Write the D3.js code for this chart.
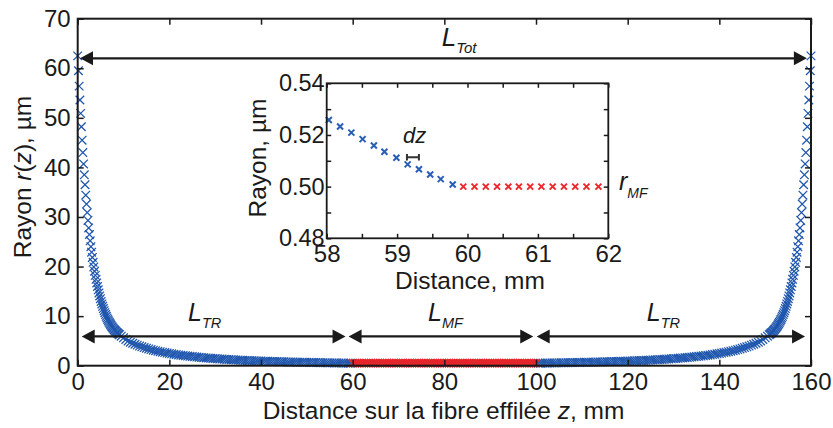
<!DOCTYPE html>
<html><head><meta charset="utf-8">
<script src="https://cdn.jsdelivr.net/npm/d3@7"></script>
<style>
body{margin:0;background:#fff}
svg{display:block}
text{font-family:"Liberation Sans",Arial,Helvetica,sans-serif;fill:#1a1a1a}
</style>
</head><body>
<svg id="c" width="833" height="428"></svg>
<script>
// ---------- data ----------
const xTicks = [0,20,40,60,80,100,120,140,160];
const yTicks = [0,10,20,30,40,50,60,70];

// left transition (taper) : distance z (mm) and radius r (µm); right taper is its mirror image
const taperZ = [0,0.16,0.32,0.48,0.64,0.8,0.96,1.12,1.28,1.44,1.6,1.76,1.92,2.08,2.24,2.4,2.56,2.72,2.88,3.04,3.2,3.36,3.52,3.68,3.84,4,4.16,4.32,4.48,4.64,4.8,4.96,5.12,5.28,5.44,5.6,5.76,5.92,6.08,6.24,6.4,6.56,6.72,6.88,7.04,7.2,7.36,7.52,7.68,7.84,8,8.16,8.32,8.48,8.64,8.8,8.96,9.12,
9.5,10,10.5,11,11.5,12,12.5,13,13.5,14,14.5,15,15.5,16,16.5,17,17.5,18,18.5,19,19.5,20,20.5,21,21.5,22,22.5,23,23.5,24,24.5,25,25.5,26,26.5,27,27.5,28,28.5,29,29.5,30,30.5,31,31.5,32,32.5,33,33.5,34,34.5,35,35.5,36,36.5,37,37.5,38,38.5,39,39.5,40,40.5,41,41.5,42,42.5,43,43.5,44,44.5,45,45.5,46,46.5,47,47.5,48,48.5,49,49.5,50,50.5,51,51.5,52,52.5,53,53.5,54,54.5,55,55.5,56,56.5,57,57.5,58,58.5,59,59.5];
const taperR = [62.5,59.5,56.4,53.6,50.9,48.2,45.5,43.0,40.7,38.5,36.5,34.4,32.6,30.9,29.3,27.8,26.45,25.2,24.0,22.9,21.85,20.85,19.92,19.05,18.22,17.43,16.69,15.98,15.31,14.68,14.08,13.51,12.97,12.46,11.98,11.53,11.10,10.70,10.32,9.96,9.63,9.32,9.03,8.76,8.50,8.26,8.03,7.82,7.62,7.43,7.25,7.08,6.92,6.77,6.63,6.50,6.37,6.25,
5.96,5.62,5.29,4.99,4.74,4.53,4.33,4.15,3.97,3.81,3.66,3.52,3.39,3.26,3.14,3.03,2.92,2.82,2.73,2.64,2.55,2.47,2.39,2.32,2.25,2.18,2.12,2.06,2.00,1.94,1.89,1.84,1.79,1.74,1.70,1.65,1.61,1.57,1.53,1.50,1.46,1.43,1.39,1.36,1.33,1.30,1.27,1.24,1.22,1.19,1.17,1.14,1.12,1.10,1.07,1.05,1.03,1.01,0.99,0.97,0.95,0.94,0.92,0.90,0.89,0.87,0.85,0.84,0.83,0.81,0.80,0.78,0.77,0.76,0.75,0.73,0.72,0.71,0.70,0.69,0.68,0.67,0.66,0.65,0.64,0.63,0.62,0.61,0.60,0.59,0.58,0.57,0.57,0.56,0.55,0.54,0.54,0.53,0.52,0.51,0.51];

// micro-fibre waist
const waistZ = [60,60.5,61,61.5,62,62.5,63,63.5,64,64.5,65,65.5,66,66.5,67,67.5,68,68.5,69,69.5,70,70.5,71,71.5,72,72.5,73,73.5,74,74.5,75,75.5,76,76.5,77,77.5,78,78.5,79,79.5,80,80.5,81,81.5,82,82.5,83,83.5,84,84.5,85,85.5,86,86.5,87,87.5,88,88.5,89,89.5,90,90.5,91,91.5,92,92.5,93,93.5,94,94.5,95,95.5,96,96.5,97,97.5,98,98.5,99,99.5,100];
const waistR = [0.5,0.5,0.5,0.5,0.5,0.5,0.5,0.5,0.5,
0.5,0.5,0.5,0.5,0.5,0.5,0.5,0.5,0.5,
0.5,0.5,0.5,0.5,0.5,0.5,0.5,0.5,0.5,
0.5,0.5,0.5,0.5,0.5,0.5,0.5,0.5,0.5,
0.5,0.5,0.5,0.5,0.5,0.5,0.5,0.5,0.5,
0.5,0.5,0.5,0.5,0.5,0.5,0.5,0.5,0.5,
0.5,0.5,0.5,0.5,0.5,0.5,0.5,0.5,0.5,
0.5,0.5,0.5,0.5,0.5,0.5,0.5,0.5,0.5,
0.5,0.5,0.5,0.5,0.5,0.5,0.5,0.5,0.5];

// inset
const insetXTicks = [58,58.5,59,59.5,60,60.5,61,61.5,62];
const insetYTicks = [0.48,0.49,0.50,0.51,0.52,0.53,0.54];
const insetXLabels = [58,59,60,61,62];
const insetYLabels = [0.48,0.50,0.52,0.54];
const insetTaperZ = [58.03,58.19,58.35,58.51,58.67,58.82,58.99,59.15,59.31,59.47,59.62,59.79];
const insetTaperR = [0.5258,0.5233,0.5209,0.5184,0.5159,0.5135,0.5112,0.5086,0.5067,0.5047,0.5029,0.5008];
const insetWaistZ = [59.94,60.10,60.26,60.42,60.58,60.73,60.89,61.05,61.21,61.37,61.53,61.69,61.86];
const insetWaistR = [0.5,0.5,0.5,0.5,0.5,0.5,0.5,0.5,0.5,0.5,0.5,0.5,0.5];

// annotations (data coordinates)
const totArrow = {z0:0.5, z1:159.1, r:62.0};
const segArrows = [{z0:0.87,z1:58.45,sub:"TR"},{z0:59.1,z1:99.4,sub:"MF"},{z0:100.15,z1:158.7,sub:"TR"}];
const segR = 5.9;
const dzSpan = [59.14,59.31], dzR = 0.5114;

// ---------- drawing ----------
const svg = d3.select("#c");
const INK = "#1a1a1a", BLUE = "#1f56ad", RED = "#e4252a";
const x = d3.scaleLinear([0,160],[77.7,811]);
const y = d3.scaleLinear([0,70],[365.7,18.7]);
const cross = s => `M${-s},${-s}L${s},${s}M${-s},${s}L${s},${-s}`;

function markers(g, zs, rs, xs, ys, color, size, sw){
  g.append("g").selectAll("path").data(zs.map((z,i)=>[z,rs[i]])).join("path")
    .attr("d", cross(size))
    .attr("transform", d=>`translate(${xs(d[0])},${ys(d[1])})`)
    .attr("fill","none").attr("stroke",color).attr("stroke-width",sw);
}

// main series
const gm = svg.append("g");
markers(gm, taperZ, taperR, x, y, BLUE, 4.3, 1.25);
markers(gm, taperZ.map(z=>160-z), taperR, x, y, BLUE, 4.3, 1.25);
markers(gm, waistZ, waistR, x, y, RED, 4, 1.8);

// axes
function styleAxis(g, fs){
  g.attr("font-size", fs).attr("font-family", null).attr("color", INK);
  g.select(".domain").remove();
  g.selectAll(".tick line").attr("stroke-width",1.5);
}
styleAxis(svg.append("g").attr("transform",`translate(0,${y(0)})`)
  .call(d3.axisBottom(x).tickValues(xTicks).tickSizeInner(-6).tickSizeOuter(0).tickPadding(7.5)), 24);
styleAxis(svg.append("g").attr("transform",`translate(${x(0)},0)`)
  .call(d3.axisLeft(y).tickValues(yTicks).tickSizeInner(-6).tickSizeOuter(0).tickPadding(7)), 24);
styleAxis(svg.append("g").attr("transform",`translate(0,${y(70)})`)
  .call(d3.axisTop(x).tickValues(xTicks).tickSizeInner(-6).tickSizeOuter(0).tickFormat("")), 24);
styleAxis(svg.append("g").attr("transform",`translate(${x(160)},0)`)
  .call(d3.axisRight(y).tickValues(yTicks).tickSizeInner(-6).tickSizeOuter(0).tickFormat("")), 24);
svg.append("rect").attr("x",x(0)).attr("y",y(70)).attr("width",x(160)-x(0)).attr("height",y(0)-y(70))
  .attr("fill","none").attr("stroke",INK).attr("stroke-width",2);

// titles
const xt = svg.append("text").attr("x",443.5).attr("y",419).attr("text-anchor","middle").attr("font-size",24.5);
xt.append("tspan").text("Distance sur la fibre effilée ");
xt.append("tspan").attr("font-style","italic").text("z");
xt.append("tspan").text(", mm");
const yt = svg.append("text").attr("transform","translate(31,177) rotate(-90)").attr("text-anchor","middle").attr("font-size",24.5);
yt.append("tspan").text("Rayon ");
yt.append("tspan").attr("font-style","italic").text("r");
yt.append("tspan").text("(");
yt.append("tspan").attr("font-style","italic").text("z");
yt.append("tspan").text("), µm");

// arrows
function dblArrow(x0, x1, yy){
  const L = 13, h = 7;
  svg.append("line").attr("x1",x0+4).attr("x2",x1-4).attr("y1",yy).attr("y2",yy)
    .attr("stroke",INK).attr("stroke-width",2.2);
  svg.append("path").attr("d",`M${x0},${yy}L${x0+L},${yy-h}L${x0+L},${yy+h}Z`).attr("fill",INK);
  svg.append("path").attr("d",`M${x1},${yy}L${x1-L},${yy-h}L${x1-L},${yy+h}Z`).attr("fill",INK);
}
function subLabel(px, py, main, sub, size, subSize, dy){
  const t = svg.append("text").attr("x",px).attr("y",py).attr("font-style","italic").attr("font-size",size).text(main);
  t.append("tspan").attr("font-size",subSize).attr("dy",dy).text(sub);
}
dblArrow(x(totArrow.z0), x(totArrow.z1), y(totArrow.r));
subLabel(x(79.42), 46, "L", "Tot", 26, 15, 7);
segArrows.forEach(s => dblArrow(x(s.z0), x(s.z1), y(segR)));
const segLabelZ = [24.07, 76.44, 124.16];
segArrows.forEach((s,i) => subLabel(x(segLabelZ[i]), 321, "L", s.sub, 25, 14.5, 7));

// ---------- inset ----------
const ix = d3.scaleLinear([58,62],[326.7,608.3]);
const iy = d3.scaleLinear([0.48,0.54],[238.3,83.3]);
svg.append("rect").attr("x",ix(58)).attr("y",iy(0.54)).attr("width",ix(62)-ix(58)).attr("height",iy(0.48)-iy(0.54)).attr("fill","#fff");
const gi = svg.append("g");
markers(gi, insetTaperZ, insetTaperR, ix, iy, "#2a5eb5", 3, 2);
markers(gi, insetWaistZ, insetWaistR, ix, iy, "#ec2a2e", 3, 2);

const fmtX = d => insetXLabels.includes(d) ? String(d) : "";
const fmtY = d => insetYLabels.some(v=>Math.abs(v-d)<1e-9) ? d3.format(".2f")(d) : "";
styleAxis(svg.append("g").attr("transform",`translate(0,${iy(0.48)})`)
  .call(d3.axisBottom(ix).tickValues(insetXTicks).tickSizeInner(-4.5).tickSizeOuter(0).tickPadding(6.5).tickFormat(fmtX)), 24);
styleAxis(svg.append("g").attr("transform",`translate(${ix(58)},0)`)
  .call(d3.axisLeft(iy).tickValues(insetYTicks).tickSizeInner(-4.5).tickSizeOuter(0).tickPadding(2).tickFormat(fmtY)), 23.5);
styleAxis(svg.append("g").attr("transform",`translate(0,${iy(0.54)})`)
  .call(d3.axisTop(ix).tickValues(insetXTicks).tickSizeInner(-4.5).tickSizeOuter(0).tickFormat("")), 24);
styleAxis(svg.append("g").attr("transform",`translate(${ix(62)},0)`)
  .call(d3.axisRight(iy).tickValues(insetYTicks).tickSizeInner(-4.5).tickSizeOuter(0).tickFormat("")), 24);
svg.append("rect").attr("x",ix(58)).attr("y",iy(0.54)).attr("width",ix(62)-ix(58)).attr("height",iy(0.48)-iy(0.54))
  .attr("fill","none").attr("stroke",INK).attr("stroke-width",1.8);

svg.append("text").attr("x",470).attr("y",289).attr("text-anchor","middle").attr("font-size",24.5).text("Distance, mm");
svg.append("text").attr("transform","translate(266,158) rotate(-90)").attr("text-anchor","middle").attr("font-size",24.5).text("Rayon, µm");

// dz marker
svg.append("text").attr("x",403).attr("y",143).attr("font-style","italic").attr("font-size",22).text("dz");
const bx0 = ix(dzSpan[0]), bx1 = ix(dzSpan[1]), by = iy(dzR);
svg.append("path").attr("d",`M${bx0},${by}H${bx1}M${bx0},${by-3.3}V${by+3.3}M${bx1},${by-3.3}V${by+3.3}`)
  .attr("stroke","#333").attr("stroke-width",2).attr("fill","none");
// r_MF label
subLabel(619, 190, "r", "MF", 25, 14, 8);
</script>
</body></html>
